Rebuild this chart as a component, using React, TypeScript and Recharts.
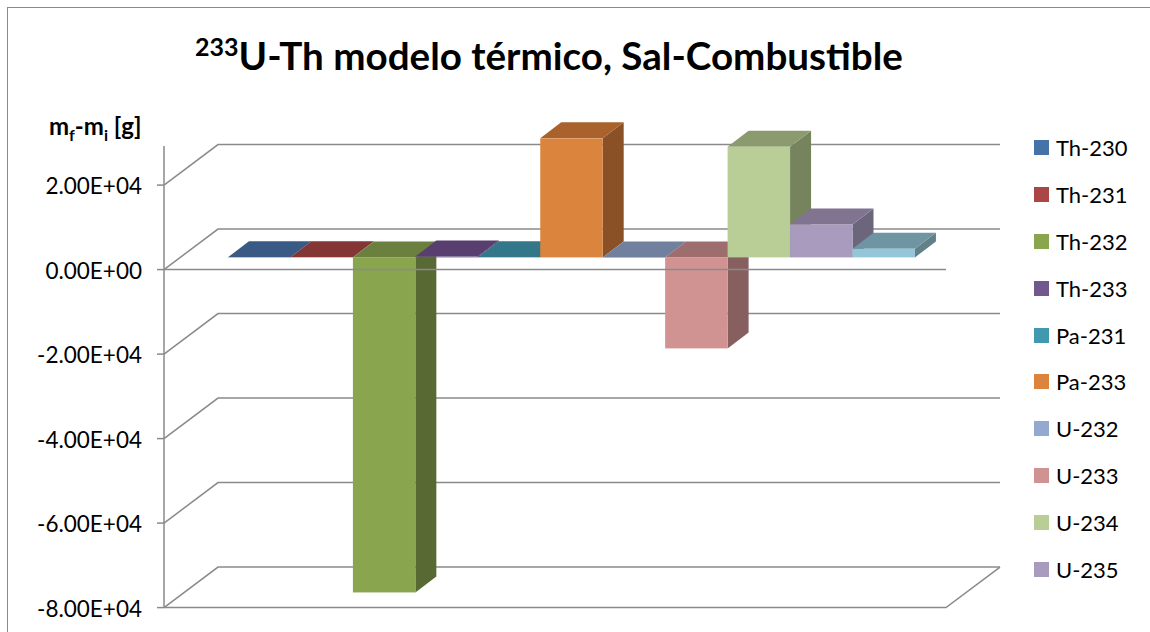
import React from 'react'
import { BarChart, Bar, XAxis, YAxis, CartesianGrid, Legend, ReferenceLine } from 'recharts'

const ISOTOPES = ['Th-230', 'Th-231', 'Th-232', 'Th-233', 'Pa-231', 'Pa-233', 'U-232', 'U-233', 'U-234', 'U-235', 'U-236']
const DELTA_MASS = [30, 20, -79300, 200, 40, 28170, -40, -21540, 26180, 7810, 2040]
const Y_TICKS = [-80000, -60000, -40000, -20000, 0, 20000]
const Y_DOMAIN = [-80000, 29250]

const FRONT_COLORS = ['#4572A7', '#AA4643', '#89A54E', '#71588F', '#4198AF', '#DB843D', '#93A9CF', '#D19392', '#B9CD96', '#A99BBD', '#93C6D9']
const TOP_COLORS = ['#385A84', '#843635', '#6B7F3E', '#583F70', '#33778A', '#A9622B', '#71809E', '#9E6E6E', '#8C9A70', '#807490', '#6F95A3']
const SIDE_COLORS = ['#2E4A6C', '#6C2C2B', '#596933', '#49345C', '#2A6272', '#8B5126', '#5E6A83', '#875F5F', '#76845D', '#6C667C', '#628088']

const GRID_COLOR = '#8A8A8A'
const WALL_DX = 54
const WALL_DY = 40.5
const BAR_DX = 16.5
const BAR_DY = 12.2
const DEPTH_DX = 21
const DEPTH_DY = 16
// recharts floors the bar width to whole pixels, the original bars are 62.45 wide
const BAR_EXTRA = 0.45

const chartData = [
  ISOTOPES.reduce<Record<string, number | string>>((row, name, i) => {
    row[name] = DELTA_MASS[i]
    return row
  }, { name: 'Sal-Combustible' })
]

const formatTick = (value: number) => {
  if (value === 0) return '0.00E+00'
  const [mantissa, exp] = value.toExponential(2).toUpperCase().split('E+')
  return `${mantissa}E+${exp.padStart(2, '0')}`
}

const makeBar3D = (index: number) => (props: any) => {
  const { x, y, width, height } = props
  const left = x + BAR_DX + index * BAR_EXTRA
  const right = left + width + BAR_EXTRA
  const top = Math.min(y, y + height) - BAR_DY
  const bottom = Math.max(y, y + height) - BAR_DY
  const topFace = `${left},${top} ${right},${top} ${right + DEPTH_DX},${top - DEPTH_DY} ${left + DEPTH_DX},${top - DEPTH_DY}`
  const sideFace = `${right},${top} ${right + DEPTH_DX},${top - DEPTH_DY} ${right + DEPTH_DX},${bottom - DEPTH_DY} ${right},${bottom}`
  return (
    <g>
      <polygon points={sideFace} fill={SIDE_COLORS[index]} />
      <polygon points={topFace} fill={TOP_COLORS[index]} />
      <rect x={left} y={top} width={right - left} height={bottom - top} fill={FRONT_COLORS[index]} />
    </g>
  )
}

const renderWallLine = (props: any) => {
  const { x1, x2, y1 } = props
  return (
    <polyline
      key={props.key ?? y1}
      points={`${x1},${y1} ${x1 + WALL_DX},${y1 - WALL_DY} ${x2 + WALL_DX},${y1 - WALL_DY}`}
      stroke={GRID_COLOR}
      strokeWidth={1.5}
      fill="none"
    />
  )
}

const renderFloorLine = (props: any) => {
  const { x1, x2, y1 } = props
  return (
    <polyline
      points={`${x1},${y1} ${x2},${y1} ${x2 + WALL_DX},${y1 - WALL_DY}`}
      stroke={GRID_COLOR}
      strokeWidth={1.5}
      fill="none"
    />
  )
}

const renderLegend = (props: any) => (
  <div>
    {props.payload.filter((item: any) => item.type !== 'none').map((item: any) => (
      <div key={item.value} style={{ display: 'flex', alignItems: 'center', height: 46.9 }}>
        <span style={{ width: 15, height: 15, background: item.color, marginRight: 7 }} />
        <span style={{ fontSize: 22, color: '#000' }}>{item.value}</span>
      </div>
    ))}
  </div>
)

const App: React.FC = () => {
  const font = 'Lato, sans-serif'
  return (
    <div style={{ position: 'absolute', left: 0, top: 0, width: 1150, height: 632, background: '#fff', fontFamily: font, overflow: 'hidden' }}>
      <div style={{ position: 'absolute', left: 7, top: 7, width: 1150, height: 640, border: '1.5px solid #8A8A8A' }} />
      <div style={{ position: 'absolute', left: 0, width: 1098, top: 30, textAlign: 'center', fontSize: 38.6, fontWeight: 700, lineHeight: '50px', color: '#000' }}>
        <sup style={{ fontSize: 25, lineHeight: 0 }}>233</sup>U-Th modelo térmico, Sal-Combustible
      </div>
      <div style={{ position: 'absolute', left: 49, top: 113, fontSize: 24, fontWeight: 700, color: '#000', lineHeight: '26px' }}>
        m<sub style={{ fontSize: 16, lineHeight: 0 }}>f</sub>-m<sub style={{ fontSize: 16, lineHeight: 0 }}>i</sub> [g]
      </div>
      <BarChart
        width={1150}
        height={632}
        data={chartData}
        margin={{ top: 146, right: 94, bottom: 24.4, left: 0 }}
        barCategoryGap={47.5}
        barGap={0}
        style={{ position: 'absolute', left: 0, top: 0 }}
      >
        <CartesianGrid vertical={false} horizontal={renderWallLine} syncWithTicks />
        <XAxis dataKey="name" hide />
        <YAxis
          width={164}
          domain={Y_DOMAIN}
          ticks={Y_TICKS}
          interval={0}
          tickFormatter={formatTick}
          tickSize={7}
          tickMargin={15}
          axisLine={{ stroke: GRID_COLOR, strokeWidth: 1.5 }}
          tickLine={{ stroke: GRID_COLOR, strokeWidth: 1.5 }}
          tick={{ fill: '#000', fontSize: 22.5, dy: 1 }}
        />
        <ReferenceLine y={-80000} shape={renderFloorLine} />
        {ISOTOPES.map((name, i) => (
          <Bar
            key={name}
            dataKey={name}
            fill={FRONT_COLORS[i]}
            shape={makeBar3D(i)}
            isAnimationActive={false}
            legendType={i === ISOTOPES.length - 1 ? 'none' : 'square'}
          />
        ))}
        <ReferenceLine y={0} stroke={GRID_COLOR} strokeWidth={1.5} />
        <Legend
          layout="vertical"
          align="right"
          verticalAlign="top"
          itemSorter={null}
          wrapperStyle={{ left: 1034, top: 124, width: 110 }}
          content={renderLegend}
        />
      </BarChart>
    </div>
  )
}

export default App
